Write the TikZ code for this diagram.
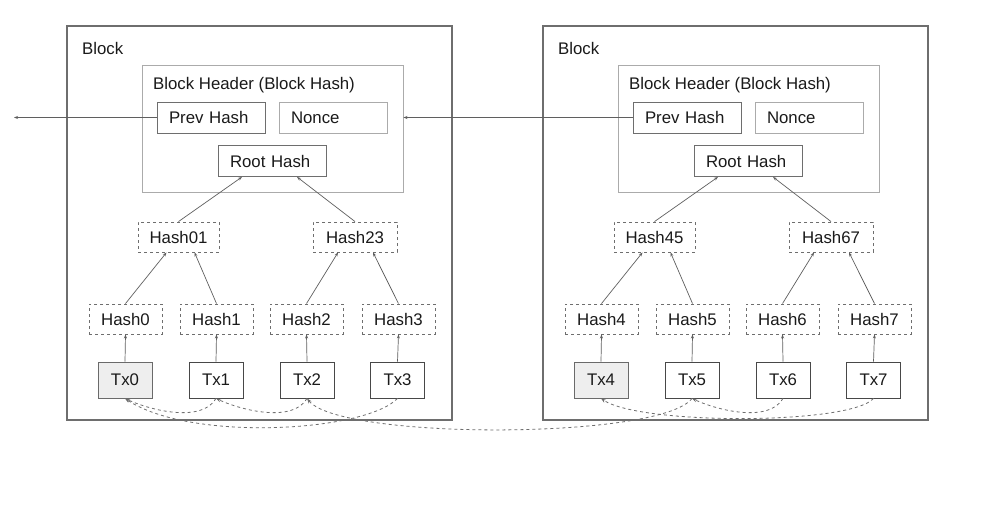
\documentclass[tikz,border=0pt]{standalone}
\usepackage{fontspec}
\setmainfont{Liberation Sans}
\usetikzlibrary{arrows.meta,calc}
\definecolor{Frame}{HTML}{6E6E6E}
\definecolor{Soft}{HTML}{ABABAB}
\definecolor{Ink}{HTML}{1A1A1A}
\definecolor{TxFill}{HTML}{EEEEEE}

\begin{document}
\begin{tikzpicture}[x=1pt,y=1pt,font=\fontsize{16.8}{20}\selectfont,text=Ink, frame/.style={draw=Frame,line width=1.1pt,minimum width=385pt,minimum height=394pt,inner sep=0pt}, header/.style={draw=Soft,line width=0.9pt,minimum width=261pt,minimum height=127pt,inner sep=0pt}, tag/.style={anchor=west,inner sep=0pt}, field/.style={draw=Frame,line width=0.9pt,text width=84pt,inner xsep=12pt,inner ysep=0pt,minimum height=31pt,align=left}, hashbox/.style={draw=Frame,dashed,line width=0.9pt,minimum height=30pt,inner sep=0pt}, txbox/.style={draw=Ink!80,line width=0.9pt,minimum width=54pt,minimum height=36pt,inner sep=0pt}, coinbase/.style={txbox,fill=TxFill,draw=Ink!65}, arrow/.style={-{Stealth[length=4pt,width=3pt]},draw=Ink!70,line width=0.7pt}, spend/.style={-{Stealth[length=5pt,width=3.5pt]},draw=Frame,dashed,line width=0.8pt}]
\fill[white] (0,0) rectangle (1000,-515);
% first block
\node[frame] (blkA) at (259.5,-223) {};
\node[tag] (lblA) at (82,-48) {Block};
\node[header] (hdrA) at (272.5,-128.5) {};
\node[tag] (hlA) at (153,-85) {Block Header (Block Hash)};
\node[field] (prevA) at (211,-117.5) {Prev Hash};\node[field,draw=Soft] (nonceA) at (333,-117.5) {Nonce};
\node[field] (rootA) at (272,-161) {Root Hash};
\node[hashbox,minimum width=81pt] (h01) at (178.5,-237) {Hash01};\node[hashbox,minimum width=84pt] (h23) at (355,-237) {Hash23};
\node[hashbox,minimum width=73pt] (h0) at (125.5,-319) {Hash0};\node[hashbox,minimum width=73pt] (h1) at (216.5,-319) {Hash1};\node[hashbox,minimum width=73pt] (h2) at (306.5,-319) {Hash2};\node[hashbox,minimum width=73pt] (h3) at (398.5,-319) {Hash3};
\node[coinbase] (tx0) at (125,-380) {Tx0};\node[txbox] (tx1) at (216,-380) {Tx1};\node[txbox] (tx2) at (307,-380) {Tx2};\node[txbox] (tx3) at (397.5,-380) {Tx3};
% second block
\node[frame] (blkB) at (735.5,-223) {};
\node[tag] (lblB) at (558,-48) {Block};
\node[header] (hdrB) at (748.5,-128.5) {};
\node[tag] (hlB) at (629,-85) {Block Header (Block Hash)};
\node[field] (prevB) at (687,-117.5) {Prev Hash};\node[field,draw=Soft] (nonceB) at (809,-117.5) {Nonce};
\node[field] (rootB) at (748,-161) {Root Hash};
\node[hashbox,minimum width=81pt] (h45) at (654.5,-237) {Hash45};\node[hashbox,minimum width=84pt] (h67) at (831,-237) {Hash67};
\node[hashbox,minimum width=73pt] (h4) at (601.5,-319) {Hash4};\node[hashbox,minimum width=73pt] (h5) at (692.5,-319) {Hash5};\node[hashbox,minimum width=73pt] (h6) at (782.5,-319) {Hash6};\node[hashbox,minimum width=73pt] (h7) at (874.5,-319) {Hash7};
\node[coinbase] (tx4) at (601,-380) {Tx4};\node[txbox] (tx5) at (692,-380) {Tx5};\node[txbox] (tx6) at (783,-380) {Tx6};\node[txbox] (tx7) at (873.5,-380) {Tx7};
% merkle links
\draw[arrow] (tx0.north)--(h0.south);\draw[arrow] (tx1.north)--(h1.south);\draw[arrow] (tx2.north)--(h2.south);\draw[arrow] (tx3.north)--(h3.south);
\draw[arrow] (h0.north)--($(h01.south)+(-12,0)$);\draw[arrow] (h1.north)--($(h01.south)+(16,0)$);\draw[arrow] (h2.north)--($(h23.south)+(-17,0)$);\draw[arrow] (h3.north)--($(h23.south)+(18,0)$);
\draw[arrow] (h01.north)--($(rootA.south)+(-30,0)$);\draw[arrow] (h23.north)--($(rootA.south)+(25,0)$);
\draw[arrow] (tx4.north)--(h4.south);\draw[arrow] (tx5.north)--(h5.south);\draw[arrow] (tx6.north)--(h6.south);\draw[arrow] (tx7.north)--(h7.south);
\draw[arrow] (h4.north)--($(h45.south)+(-12,0)$);\draw[arrow] (h5.north)--($(h45.south)+(16,0)$);\draw[arrow] (h6.north)--($(h67.south)+(-17,0)$);\draw[arrow] (h7.north)--($(h67.south)+(18,0)$);
\draw[arrow] (h45.north)--($(rootB.south)+(-30,0)$);\draw[arrow] (h67.north)--($(rootB.south)+(25,0)$);
% chain links
\coordinate (outA) at (14,-117.5);
\draw[arrow] (prevA.west)--(outA);\draw[arrow] (prevB.west)--(prevB.west -| hdrA.east);
% spent outputs
\draw[spend] (tx1.south) to[out=-120,in=-25,looseness=0.8] (tx0.south);
\draw[spend] (tx2.south) to[out=-120,in=-25,looseness=0.8] (tx1.south);
\draw[spend] (tx3.south) .. controls (365,-432) and (190,-442) .. (tx0.south);
\draw[spend] (tx5.south) .. controls (660,-440) and (340,-440) .. (tx2.south);
\draw[spend] (tx6.south) to[out=-120,in=-25,looseness=0.8] (tx5.south);
\draw[spend] (tx7.south) .. controls (850,-425) and (640,-425) .. (tx4.south);
\end{tikzpicture}
\end{document}
